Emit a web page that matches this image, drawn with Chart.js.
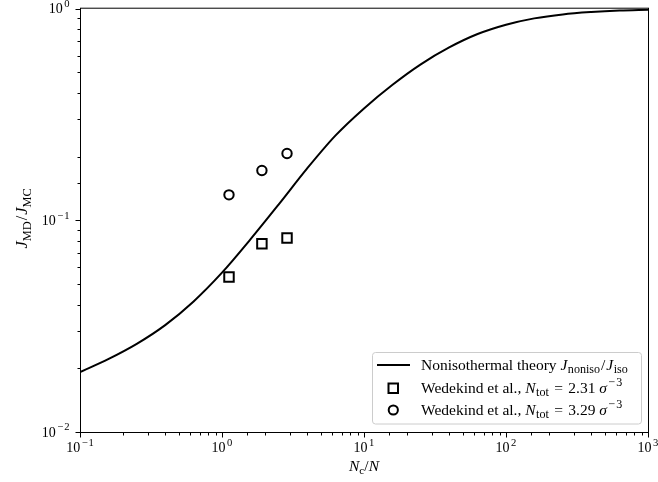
<!DOCTYPE html>
<html>
<head>
<meta charset="utf-8">
<script src="https://cdn.jsdelivr.net/npm/chart.js@4.4.1/dist/chart.umd.min.js"></script>
<style>
  html, body { margin: 0; padding: 0; background: #fff; }
  #wrap { width: 658px; height: 482px; }
</style>
</head>
<body>
<div id="wrap"><canvas id="chart" width="658" height="482"></canvas></div>
<script>
// nonisothermal theory curve
const theoryX = [0.1, 0.158, 0.251, 0.398, 0.631, 1, 1.58, 2.51, 3.98, 6.31, 10, 15.8, 25.1, 39.8, 63.1, 100, 158, 251, 398, 631, 1000];
const theoryY = [0.0192, 0.0221, 0.0261, 0.0320, 0.0414, 0.0566, 0.0811, 0.119, 0.176, 0.252, 0.338, 0.436, 0.546, 0.656, 0.759, 0.840, 0.900, 0.940, 0.964, 0.980, 0.989];

// Wedekind et al. simulation points
const wedekindX = [1.12, 1.91, 2.87];
const lowDensityY = [0.054, 0.0776, 0.0825];
const highDensityY = [0.132, 0.172, 0.207];

const xMajorTicks = [0.1, 1, 10, 100, 1000];
const xTickExponents = ['\u22121', '0', '1', '2', '3'];
const yMajorTicks = [0.01, 0.1, 1];
const yTickExponents = ['\u22122', '\u22121', '0'];

const FONT = '"Liberation Serif", "DejaVu Serif", serif';

function partFont(p, size, ratio) {
  const s = p.d ? size * ratio : size;
  return (p.i ? 'italic ' : '') + s + 'px ' + FONT;
}

function drawRich(ctx, parts, x, y, size, align, ratio = 0.72) {
  let total = 0;
  parts.forEach((p) => {
    ctx.font = partFont(p, size, ratio);
    total += ctx.measureText(p.t).width + (p.gap || 0);
  });
  let cx = align === 'center' ? x - total / 2 : align === 'right' ? x - total : x;
  ctx.textBaseline = 'alphabetic';
  ctx.textAlign = 'left';
  parts.forEach((p) => {
    ctx.font = partFont(p, size, ratio);
    let dy = 0;
    if (p.d === 'sub') dy = size * 0.22;
    if (p.d === 'sup') dy = -size * 0.45;
    cx += (p.gap || 0);
    ctx.fillText(p.t, cx, y + dy);
    cx += ctx.measureText(p.t).width;
  });
}

function powerLabel(exp) {
  return [{ t: '10' }, { t: exp.replace('\u2212', '\u2212\u200a'), d: 'sup', gap: 1.5 }];
}

const isMajor = (v) => Math.abs(Math.log10(v) - Math.round(Math.log10(v))) < 1e-9;

const decorations = {
  id: 'decorations',
  afterDraw(chart) {
    const { ctx, chartArea: area } = chart;
    const xs = chart.scales.x;
    const ys = chart.scales.y;
    ctx.save();
    ctx.strokeStyle = '#000';
    ctx.fillStyle = '#000';
    ctx.lineWidth = 1;

    // frame
    ctx.strokeRect(area.left + 0.5, area.top - 0.5, area.right - area.left, area.bottom - area.top + 1);

    // tick marks, pointing out
    ctx.beginPath();
    xs.ticks.forEach((tick) => {
      const px = Math.round(xs.getPixelForValue(tick.value)) + 0.5;
      const len = isMajor(tick.value) ? 5 : 3;
      ctx.moveTo(px, area.bottom + 0.5);
      ctx.lineTo(px, area.bottom + 0.5 + len);
    });
    ys.ticks.forEach((tick) => {
      const py = Math.round(ys.getPixelForValue(tick.value)) + 0.5;
      const len = isMajor(tick.value) ? 5 : 3;
      ctx.moveTo(area.left + 0.5, py);
      ctx.lineTo(area.left + 0.5 - len, py);
    });
    ctx.stroke();

    // tick labels
    xMajorTicks.forEach((v, i) => {
      drawRich(ctx, powerLabel(xTickExponents[i]), xs.getPixelForValue(v), area.bottom + 20, 14, 'center', 0.76);
    });
    yMajorTicks.forEach((v, i) => {
      drawRich(ctx, powerLabel(yTickExponents[i]), area.left - 10.5, ys.getPixelForValue(v) + 4.5, 14, 'right', 0.76);
    });

    // axis titles
    drawRich(ctx, [{ t: 'N', i: true }, { t: 'c', d: 'sub' }, { t: '/' }, { t: 'N', i: true }],
      (area.left + area.right) / 2, area.bottom + 39, 15.5, 'center');
    ctx.save();
    ctx.translate(27, (area.top + area.bottom) / 2 - 2);
    ctx.rotate(-Math.PI / 2);
    drawRich(ctx, [{ t: 'J', i: true }, { t: 'MD', d: 'sub' }, { t: '/', gap: 1 }, { t: 'J', i: true, gap: 1 }, { t: 'MC', d: 'sub' }],
      0, 0, 16.5, 'center', 0.75);
    ctx.restore();

    // legend
    const lx = 372.5, ly = 352.5, lw = 269, lh = 71.5;
    ctx.beginPath();
    ctx.roundRect(lx, ly, lw, lh, 3);
    ctx.fillStyle = 'rgba(255,255,255,0.8)';
    ctx.fill();
    ctx.strokeStyle = '#cccccc';
    ctx.stroke();

    ctx.strokeStyle = '#000';
    ctx.fillStyle = '#000';
    ctx.lineWidth = 2;
    ctx.beginPath();
    ctx.moveTo(377, 365);
    ctx.lineTo(410, 365);
    ctx.stroke();
    ctx.strokeRect(388.5, 383.5, 9.5, 9.5);
    ctx.beginPath();
    ctx.arc(393.3, 410, 4.6, 0, Math.PI * 2);
    ctx.stroke();

    const rows = [
      [{ t: 'Nonisothermal theory ' }, { t: 'J', i: true }, { t: 'noniso', d: 'sub', gap: 0.5 }, { t: '/', gap: 1 }, { t: 'J', i: true, gap: 1 }, { t: 'iso', d: 'sub', gap: 0.5 }],
      [{ t: 'Wedekind et al., ' }, { t: 'N', i: true }, { t: 'tot', d: 'sub', gap: 0.5 }, { t: ' = ', gap: 1.5 }, { t: '2.31 ', gap: 1.5 }, { t: '\u03c3', i: true }, { t: '\u2212\u200a3', d: 'sup', gap: 1.5 }],
      [{ t: 'Wedekind et al., ' }, { t: 'N', i: true }, { t: 'tot', d: 'sub', gap: 0.5 }, { t: ' = ', gap: 1.5 }, { t: '3.29 ', gap: 1.5 }, { t: '\u03c3', i: true }, { t: '\u2212\u200a3', d: 'sup', gap: 1.5 }]
    ];
    [369.5, 393, 415].forEach((y, i) => drawRich(ctx, rows[i], 421, y, 15.5, 'left', 0.78));
    ctx.restore();
  }
};

new Chart(document.getElementById('chart'), {
  type: 'scatter',
  data: {
    datasets: [
      {
        type: 'line',
        label: 'Nonisothermal theory',
        data: theoryX.map((x, i) => ({ x, y: theoryY[i] })),
        borderColor: '#000',
        borderWidth: 2,
        pointRadius: 0,
        cubicInterpolationMode: 'monotone',
        fill: false
      },
      {
        label: 'Wedekind et al., Ntot = 2.31',
        data: wedekindX.map((x, i) => ({ x, y: lowDensityY[i] })),
        pointStyle: 'rect',
        pointRadius: 6.7,
        borderColor: '#000',
        backgroundColor: 'rgba(0,0,0,0)',
        borderWidth: 2
      },
      {
        label: 'Wedekind et al., Ntot = 3.29',
        data: wedekindX.map((x, i) => ({ x, y: highDensityY[i] })),
        pointStyle: 'circle',
        pointRadius: 4.7,
        borderColor: '#000',
        backgroundColor: 'rgba(0,0,0,0)',
        borderWidth: 2
      }
    ]
  },
  options: {
    responsive: false,
    animation: false,
    devicePixelRatio: 1,
    layout: { padding: { left: 80, right: 10, top: 8, bottom: 50 } },
    plugins: { legend: { display: false }, tooltip: { enabled: false } },
    scales: {
      x: {
        type: 'logarithmic', min: 0.1, max: 1000,
        grid: { display: false, drawTicks: false },
        border: { display: false },
        ticks: { display: false }
      },
      y: {
        type: 'logarithmic', min: 0.01, max: 1,
        grid: { display: false, drawTicks: false },
        border: { display: false },
        ticks: { display: false }
      }
    }
  },
  plugins: [decorations]
});
</script>
</body>
</html>
